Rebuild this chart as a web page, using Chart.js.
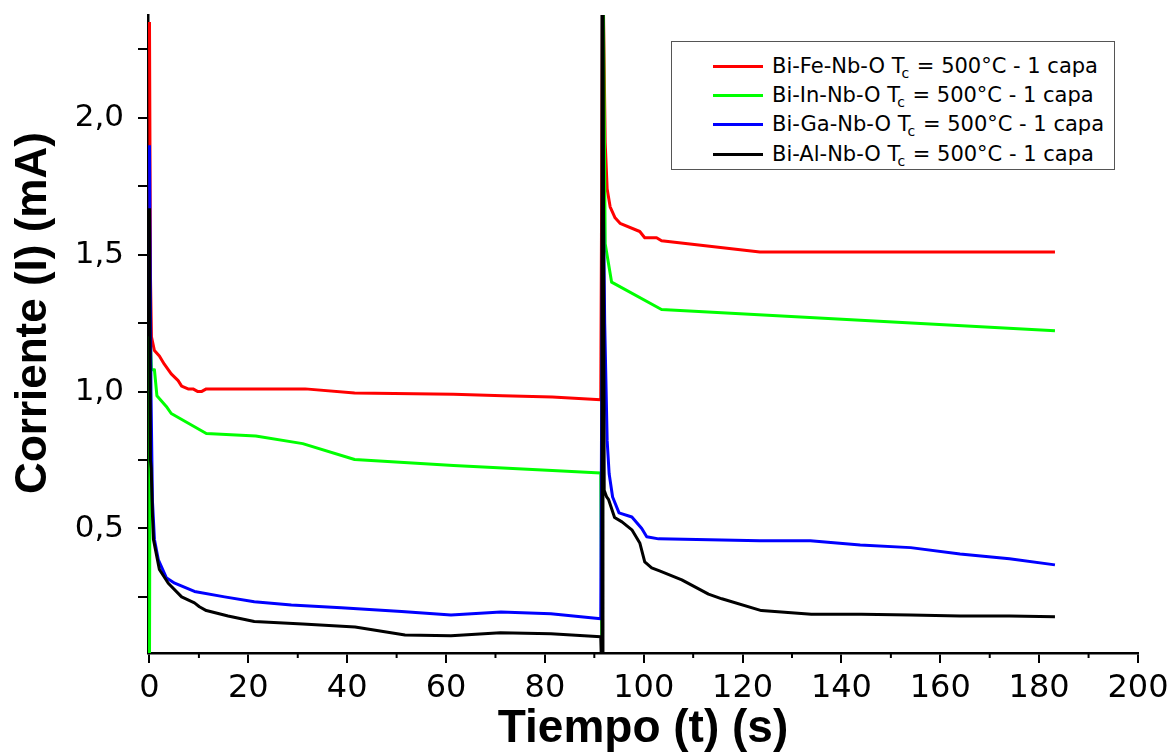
<!DOCTYPE html>
<html>
<head>
<meta charset="utf-8">
<script src="https://cdn.jsdelivr.net/npm/chart.js@4.4.1/dist/chart.umd.min.js"></script>
<style>
html,body{margin:0;padding:0;background:#fff;}
#wrap{position:relative;width:1176px;height:753px;overflow:hidden;}
#c{position:absolute;left:0;top:0;}
#legend{position:absolute;left:671px;top:41px;width:444px;height:129px;border:1.5px solid #555;box-sizing:border-box;background:#fff;font-family:"DejaVu Sans",sans-serif;font-size:21px;color:#000;}
#legend .sw{position:absolute;left:41px;width:50px;height:3px;}
#legend .tx{position:absolute;left:100px;line-height:21px;white-space:nowrap;}
#legend .sb{font-size:14px;position:relative;top:5px;margin-left:-3px;margin-right:1px;}
</style>
</head>
<body>
<div id="wrap">
<canvas id="c" width="1176" height="753"></canvas>
<div id="legend"></div>
</div>
<script>
// ---- data ----
const seriesNames = ['Bi-Fe-Nb-O', 'Bi-In-Nb-O', 'Bi-Ga-Nb-O', 'Bi-Al-Nb-O'];
const legendSuffix = ' = 500°C - 1 capa';
const legendSub = 'c';

const tFe = [0, 0.2, 0.4, 1, 2, 3, 4.4, 5.8, 6.5, 7.8, 8.8, 9.8, 10.5, 11.5, 31.5, 41.5, 61.5, 71.5, 81.5, 91.3, 91.7, 92.2, 92.6, 93.2, 94.2, 95.2, 99.2, 100.2, 102.6, 103.6, 123.5, 183.2];
const iFe = [2.35, 1.42, 1.2, 1.15, 1.13, 1.10, 1.065, 1.04, 1.02, 1.01, 1.01, 1.0, 1.0, 1.01, 1.01, 0.995, 0.99, 0.985, 0.98, 0.97, 2.6, 1.91, 1.74, 1.675, 1.635, 1.615, 1.585, 1.562, 1.562, 1.551, 1.51, 1.51];

const tIn = [0, 0.15, 0.4, 1, 1.5, 3.4, 4.4, 11.5, 21.5, 31, 41.5, 61.5, 81.5, 91.3, 91.55, 91.75, 92.2, 93.5, 103.6, 183.2];
const iIn = [0.0, 1.2, 1.08, 1.08, 0.985, 0.946, 0.92, 0.847, 0.838, 0.81, 0.752, 0.73, 0.712, 0.703, 0.0, 2.6, 1.54, 1.40, 1.30, 1.222];

const tGa = [0, 0.3, 0.6, 1, 1.8, 3.4, 5.1, 9.1, 15.2, 21.2, 28.7, 38.8, 51, 61, 71.1, 81.2, 91.3, 91.7, 92.1, 92.6, 93.0, 93.7, 95, 97.6, 99.6, 100.6, 103, 123.5, 133.7, 143.8, 154, 164, 174, 183.2];
const iGa = [1.9, 1.0, 0.6, 0.46, 0.385, 0.32, 0.30, 0.27, 0.25, 0.232, 0.22, 0.21, 0.197, 0.184, 0.195, 0.188, 0.17, 1.9, 1.25, 0.82, 0.70, 0.615, 0.557, 0.542, 0.50, 0.47, 0.462, 0.455, 0.455, 0.44, 0.43, 0.407, 0.389, 0.367];

const tAl = [0, 0.2, 0.35, 0.6, 0.8, 2, 3.8, 6.5, 9.1, 10.1, 11.5, 15.9, 21.2, 31, 41.6, 51.7, 61, 71, 81.2, 91.3, 91.45, 91.55, 91.65, 91.75, 92.0, 92.5, 92.9, 94.1, 95.6, 97.6, 99.2, 100.2, 101.6, 103.2, 107.7, 113.1, 115.8, 123.8, 133.9, 144, 154, 164, 174, 183.2];
const iAl = [1.67, 0.75, 0.72, 0.55, 0.46, 0.35, 0.30, 0.25, 0.228, 0.214, 0.2, 0.18, 0.16, 0.151, 0.14, 0.111, 0.108, 0.119, 0.115, 0.104, 0.0, 2.6, 0.0, 2.6, 0.64, 0.615, 0.605, 0.54, 0.524, 0.495, 0.447, 0.378, 0.356, 0.345, 0.312, 0.26, 0.243, 0.2, 0.187, 0.187, 0.184, 0.18, 0.18, 0.177];

const xMajorTicks = [0, 20, 40, 60, 80, 100, 120, 140, 160, 180, 200];
const xTickLabels = ['0', '20', '40', '60', '80', '100', '120', '140', '160', '180', '200'];
const xMinorTicks = [10, 30, 50, 70, 90, 110, 130, 150, 170, 190];
const yMajorTicks = [0.5, 1.0, 1.5, 2.0];
const yTickLabels = ['0,5', '1,0', '1,5', '2,0'];
const yMinorTicks = [0.25, 0.75, 1.25, 1.75, 2.25];

const xTitle = 'Tiempo (t) (s)';
const yTitle = 'Corriente (I) (mA)';

// ---- styles ----
const colors = ['#ff0000', '#00ff00', '#0000ff', '#000000'];
const drawOrder = [3, 2, 1, 0];

const seriesT = [tFe, tIn, tGa, tAl];
const seriesI = [iFe, iIn, iGa, iAl];

const datasets = seriesNames.map((name, k) => ({
  label: name + ' Tc' + legendSuffix,
  data: seriesT[k].map((t, j) => ({x: t, y: seriesI[k][j]})),
  borderColor: colors[k],
  backgroundColor: colors[k],
  borderWidth: 3,
  pointRadius: 0,
  tension: 0,
  fill: false,
  borderJoinStyle: 'round',
  order: drawOrder[k],
  clip: 0
}));

const minorTickPlugin = {
  id: 'minorTicks',
  afterDraw(chart) {
    const s = chart.scales.x, ctx = chart.ctx;
    ctx.save();
    ctx.strokeStyle = '#000';
    ctx.lineWidth = 2;
    xMinorTicks.forEach(v => {
      const px = s.getPixelForValue(v);
      ctx.beginPath();
      ctx.moveTo(px, s.top);
      ctx.lineTo(px, s.top + 5);
      ctx.stroke();
    });
    ctx.restore();
  }
};

// y-axis title, placed a little above the axis centre as in the reference
const yTitlePlugin = {
  id: 'yTitle',
  afterDraw(chart) {
    const s = chart.scales.y, ctx = chart.ctx;
    ctx.save();
    ctx.translate(34, (s.top + s.bottom) / 2 - 21);
    ctx.rotate(-Math.PI / 2);
    ctx.font = 'bold 44px "Liberation Sans"';
    ctx.fillStyle = '#000';
    ctx.textAlign = 'center';
    ctx.textBaseline = 'middle';
    ctx.fillText(yTitle, 0, 0);
    ctx.restore();
  }
};

new Chart(document.getElementById('c'), {
  type: 'line',
  data: { datasets },
  plugins: [minorTickPlugin, yTitlePlugin],
  options: {
    responsive: false,
    devicePixelRatio: 1,
    animation: false,
    layout: { padding: { top: 15, right: 38, bottom: 0, left: 0 } },
    plugins: { legend: { display: false }, tooltip: { enabled: false } },
    scales: {
      x: {
        type: 'linear',
        min: -0.3,
        max: 200,
        afterBuildTicks: s => { s.ticks = xMajorTicks.concat(xMinorTicks).sort((a, b) => a - b).map(v => ({value: v})); },
        afterFit: s => { s.height = 100; s.paddingLeft = 0; s.paddingRight = 0; },
        ticks: {
          autoSkip: false, maxRotation: 0, padding: 6, color: '#000',
          font: { family: 'DejaVu Sans', size: 32 },
          callback: v => { const i = xMajorTicks.indexOf(v); return i >= 0 ? xTickLabels[i] : ''; }
        },
        grid: {
          display: true, drawOnChartArea: false, drawTicks: true, tickLength: 10,
          lineWidth: 2, tickWidth: 2,
          tickColor: ctx => (ctx.tick && xMajorTicks.indexOf(ctx.tick.value) >= 0) ? '#000' : 'rgba(0,0,0,0)'
        },
        border: { display: true, color: '#000', width: 2.5 },
        title: {
          display: true, text: xTitle, color: '#000', padding: 0,
          font: { family: 'Liberation Sans', weight: 'bold', size: 46, lineHeight: 1.05 }
        }
      },
      y: {
        type: 'linear',
        min: 0.045,
        max: 2.376,
        afterBuildTicks: s => { s.ticks = yMajorTicks.concat(yMinorTicks).sort((a, b) => a - b).map(v => ({value: v})); },
        afterFit: s => { s.width = 148; s.paddingTop = 0; s.paddingBottom = 0; },
        ticks: {
          autoSkip: false, padding: 14, color: '#000',
          font: { family: 'DejaVu Sans', size: 31 },
          callback: v => { const i = yMajorTicks.indexOf(v); return i >= 0 ? yTickLabels[i] : ''; }
        },
        grid: {
          display: true, drawOnChartArea: false, drawTicks: true, tickLength: 10,
          lineWidth: 2, tickWidth: 2, tickColor: '#000'
        },
        border: { display: true, color: '#000', width: 2.5 },
        title: { display: false, text: yTitle }
      }
    }
  }
});

// ---- legend (HTML, with subscript) ----
const legend = document.getElementById('legend');
const rowCenters = [24, 53, 82, 112];
seriesNames.forEach((name, k) => {
  const sw = document.createElement('div');
  sw.className = 'sw';
  sw.style.top = (rowCenters[k] - 1.5) + 'px';
  sw.style.background = colors[k];
  legend.appendChild(sw);
  const tx = document.createElement('div');
  tx.className = 'tx';
  tx.style.top = (rowCenters[k] - 10) + 'px';
  tx.appendChild(document.createTextNode(name + ' T'));
  const sb = document.createElement('span');
  sb.className = 'sb';
  sb.textContent = legendSub;
  tx.appendChild(sb);
  tx.appendChild(document.createTextNode(legendSuffix));
  legend.appendChild(tx);
});
</script>
</body>
</html>
